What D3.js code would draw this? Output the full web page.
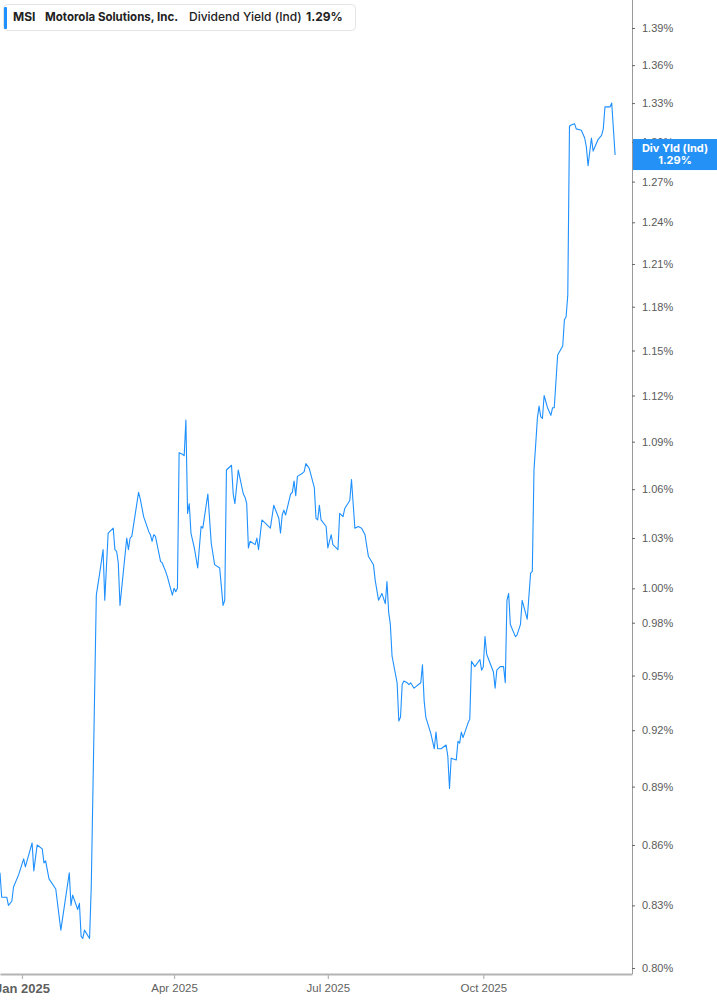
<!DOCTYPE html>
<html>
<head>
<meta charset="utf-8">
<script src="https://cdn.jsdelivr.net/npm/d3@7"></script>
<style>
  body { margin: 0; background: #fff; }
  svg { display: block; font-family: Inter, "Noto Sans", sans-serif; }
</style>
</head>
<body>
<svg id="chart" width="717" height="1005"></svg>
<script>
// data (vertices of the yield line)
const dates = [
  "2024-12-19","2024-12-20","2024-12-23","2024-12-24","2024-12-26","2024-12-27","2024-12-30","2025-01-02","2025-01-03","2025-01-07",
  "2025-01-08","2025-01-10","2025-01-13","2025-01-14","2025-01-15","2025-01-17","2025-01-21","2025-01-24","2025-01-29","2025-01-30",
  "2025-01-31","2025-02-03","2025-02-04","2025-02-05","2025-02-06","2025-02-07","2025-02-10","2025-02-11","2025-02-14","2025-02-16",
  "2025-02-18","2025-02-19","2025-02-21","2025-02-24","2025-02-25","2025-02-26","2025-02-27","2025-02-28","2025-03-04","2025-03-05",
  "2025-03-06","2025-03-07","2025-03-11","2025-03-12","2025-03-14","2025-03-17","2025-03-18","2025-03-19","2025-03-20","2025-03-21",
  "2025-03-24","2025-03-25","2025-03-27","2025-03-28","2025-03-31","2025-04-01","2025-04-02","2025-04-03","2025-04-04","2025-04-06",
  "2025-04-07","2025-04-08","2025-04-09","2025-04-10","2025-04-11","2025-04-13","2025-04-15","2025-04-17","2025-04-18","2025-04-21",
  "2025-04-23","2025-04-25","2025-04-28","2025-04-30","2025-05-01","2025-05-02","2025-05-05","2025-05-06","2025-05-07","2025-05-09",
  "2025-05-12","2025-05-13","2025-05-14","2025-05-15","2025-05-16","2025-05-19","2025-05-20","2025-05-21","2025-05-23","2025-05-28",
  "2025-05-30","2025-06-02","2025-06-03","2025-06-04","2025-06-05","2025-06-06","2025-06-09","2025-06-10","2025-06-11","2025-06-12",
  "2025-06-13","2025-06-16","2025-06-17","2025-06-18","2025-06-20","2025-06-23","2025-06-24","2025-06-25","2025-06-26","2025-06-27",
  "2025-06-30","2025-07-01","2025-07-03","2025-07-04","2025-07-07","2025-07-08","2025-07-10","2025-07-11","2025-07-14","2025-07-15",
  "2025-07-17","2025-07-19","2025-07-21","2025-07-23","2025-07-25","2025-07-28","2025-07-29","2025-07-31","2025-08-02","2025-08-04",
  "2025-08-05","2025-08-06","2025-08-07","2025-08-08","2025-08-11","2025-08-12","2025-08-13","2025-08-14","2025-08-15","2025-08-17",
  "2025-08-18","2025-08-19","2025-08-21","2025-08-25","2025-08-26","2025-08-27","2025-08-28","2025-08-31","2025-09-02","2025-09-03",
  "2025-09-04","2025-09-06","2025-09-09","2025-09-10","2025-09-11","2025-09-12","2025-09-15","2025-09-16","2025-09-17","2025-09-18",
  "2025-09-19","2025-09-22","2025-09-23","2025-09-24","2025-09-26","2025-09-29","2025-09-30","2025-10-01","2025-10-02","2025-10-03",
  "2025-10-07","2025-10-08","2025-10-09","2025-10-11","2025-10-13","2025-10-14","2025-10-15","2025-10-16","2025-10-17","2025-10-20",
  "2025-10-21","2025-10-23","2025-10-24","2025-10-27","2025-10-29","2025-10-30","2025-10-31","2025-11-01","2025-11-02","2025-11-03",
  "2025-11-04","2025-11-05","2025-11-06","2025-11-08","2025-11-10","2025-11-11","2025-11-12","2025-11-14","2025-11-17","2025-11-18",
  "2025-11-19","2025-11-20","2025-11-21","2025-11-22","2025-11-24","2025-11-25","2025-11-28","2025-11-30","2025-12-01","2025-12-02",
  "2025-12-04","2025-12-05","2025-12-08","2025-12-10","2025-12-11","2025-12-12","2025-12-15","2025-12-16","2025-12-18"
];
const yields = [
  0.846,0.834,0.834,0.830,0.832,0.839,0.845,0.853,0.849,0.861,
  0.847,0.860,0.858,0.851,0.852,0.843,0.838,0.818,0.846,0.830,
  0.835,0.828,0.831,0.815,0.814,0.818,0.814,0.839,0.996,1.009,
  1.023,0.993,1.033,1.036,1.023,1.022,1.015,0.990,1.030,1.023,
  1.030,1.031,1.058,1.054,1.043,1.034,1.032,1.028,1.032,1.031,
  1.016,1.015,1.010,1.007,0.996,1.000,0.998,1.000,1.083,1.082,
  1.081,1.104,1.045,1.051,1.033,1.024,1.012,1.037,1.036,1.057,
  1.027,1.014,1.012,0.990,0.993,1.072,1.075,1.057,1.051,1.072,
  1.057,1.055,1.051,1.024,1.028,1.026,1.030,1.023,1.041,1.036,
  1.050,1.042,1.033,1.044,1.047,1.044,1.057,1.058,1.065,1.056,
  1.068,1.070,1.071,1.076,1.073,1.061,1.042,1.041,1.050,1.041,
  1.037,1.024,1.032,1.026,1.023,1.045,1.043,1.048,1.053,1.066,
  1.036,1.037,1.036,1.032,1.019,1.014,1.005,0.993,0.997,0.991,
  1.004,0.986,0.979,0.961,0.946,0.925,0.927,0.945,0.947,0.946,
  0.945,0.946,0.943,0.946,0.956,0.936,0.927,0.918,0.910,0.919,
  0.910,0.910,0.912,0.906,0.889,0.905,0.904,0.914,0.913,0.919,
  0.916,0.924,0.926,0.958,0.955,0.959,0.953,0.955,0.972,0.962,
  0.952,0.943,0.953,0.955,0.955,0.946,0.993,0.997,0.979,0.972,
  0.973,0.979,0.993,0.982,1.009,1.010,1.072,1.088,1.105,1.113,
  1.106,1.105,1.120,1.112,1.107,1.112,1.112,1.147,1.153,1.171,
  1.173,1.188,1.312,1.313,1.314,1.310,1.309,1.303,1.296,1.282,
  1.303,1.293,1.302,1.305,1.310,1.327,1.327,1.330,1.290
];
const yTicks = [0.80,0.83,0.86,0.89,0.92,0.95,0.98,1.00,1.03,1.06,1.09,1.12,1.15,1.18,1.21,1.24,1.27,1.30,1.33,1.36,1.39];
const xTicks = ["2025-01-01","2025-04-01","2025-07-01","2025-10-01"];
const xDomain = ["2024-12-19","2025-12-28"];

const ticker = "MSI";
const company = "Motorola Solutions, Inc.";
const metric = "Dividend Yield (Ind)";
const lastValue = 1.29;

const parseDate = d3.timeParse("%Y-%m-%d");
const data = dates.map((d, i) => ({ date: parseDate(d), value: yields[i] }));

const plotRight = 632;
const plotBottom = 974;
const blue = "#1e90ff";

const svg = d3.select("#chart");

const x = d3.scaleTime()
    .domain(xDomain.map(parseDate))
    .range([0, plotRight]);

const y = d3.scaleLog()
    .domain([0.80, 1.39])
    .range([968, 28]);

// x axis
const fmtMonth = d3.timeFormat("%b %Y");
const xAxis = svg.append("g")
    .attr("transform", "translate(0," + plotBottom + ")")
    .call(d3.axisBottom(x)
      .tickValues(xTicks.map(parseDate))
      .tickSize(5)
      .tickSizeOuter(0)
      .tickPadding(5)
      .tickFormat(fmtMonth));
xAxis.select(".domain").attr("stroke", "#b4b4b4").attr("stroke-width", 2);
xAxis.selectAll(".tick line").attr("stroke", "#b4b4b4").attr("stroke-width", 1.2);
xAxis.selectAll(".tick text")
    .attr("fill", "#5f5f5f")
    .style("font-weight", (d) => d.getMonth() === 0 ? 700 : 500)
    .style("font-size", (d) => d.getMonth() === 0 ? "13px" : "11.5px");

// y axis on the right
const yAxis = svg.append("g")
    .attr("transform", "translate(" + plotRight + ",0)")
    .call(d3.axisRight(y)
      .tickValues(yTicks)
      .tickSize(3)
      .tickSizeOuter(0)
      .tickPadding(7)
      .tickFormat(d => d.toFixed(2) + "%"));
yAxis.select(".domain").attr("d", "M0.5,0V" + plotBottom).attr("stroke", "#9a9a9a").attr("stroke-width", 1);
yAxis.selectAll(".tick line").attr("stroke", "#666");
yAxis.selectAll(".tick text").attr("fill", "#5a5a5a").style("font-size", "11px");

// yield line
const line = d3.line()
    .x(d => x(d.date))
    .y(d => y(d.value));

svg.append("path")
    .datum(data)
    .attr("fill", "none")
    .attr("stroke", blue)
    .attr("stroke-width", 1.1)
    .attr("stroke-linejoin", "round")
    .attr("d", line);

// last value tag on the axis
const lastY = y(lastValue);
const tag = svg.append("g");
tag.append("rect")
    .attr("x", plotRight + 1)
    .attr("y", lastY - 16)
    .attr("width", 717 - plotRight - 1)
    .attr("height", 31)
    .attr("fill", "#2391f5");
tag.append("text")
    .attr("x", 675).attr("y", lastY - 3)
    .attr("text-anchor", "middle")
    .attr("fill", "#fff")
    .style("font-size", "11px").style("font-weight", 700)
    .text("Div Yld (Ind)");
tag.append("text")
    .attr("x", 675).attr("y", lastY + 9)
    .attr("text-anchor", "middle")
    .attr("fill", "#fff")
    .style("font-size", "11px").style("font-weight", 700)
    .text(lastValue.toFixed(2) + "%");

// legend box
const legend = svg.append("g");
legend.append("rect")
    .attr("x", 3.5).attr("y", 4.5)
    .attr("width", 352).attr("height", 26)
    .attr("rx", 4)
    .attr("fill", "#fff")
    .attr("stroke", "#e4e4e4");
legend.append("rect")
    .attr("x", 4).attr("y", 7)
    .attr("width", 3).attr("height", 22)
    .attr("rx", 1)
    .attr("fill", blue);
const legendText = legend.append("text")
    .attr("y", 21)
    .attr("fill", "#222")
    .style("font-size", "12px");
legendText.append("tspan").attr("x", 13).style("font-weight", 700).text(ticker);
legendText.append("tspan").attr("x", 45).style("font-weight", 700)
    .attr("textLength", 133).attr("lengthAdjust", "spacingAndGlyphs").text(company);
legendText.append("tspan").attr("x", 189).style("font-weight", 500).text(metric);
legendText.append("tspan").attr("x", 306).style("font-weight", 700).text(lastValue.toFixed(2) + "%");
</script>
</body>
</html>
